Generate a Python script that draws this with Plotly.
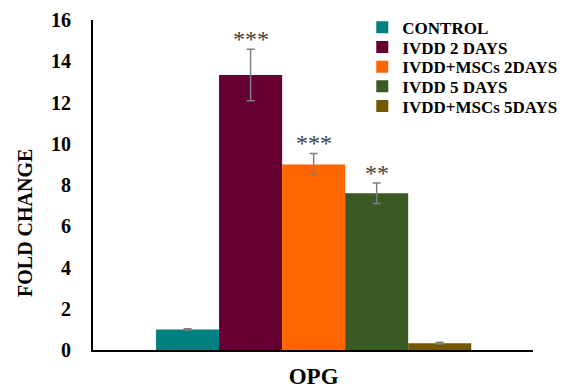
import plotly.graph_objects as go

groups = ["CONTROL", "IVDD 2 DAYS", "IVDD+MSCs 2DAYS", "IVDD 5 DAYS", "IVDD+MSCs 5DAYS"]
values = [1.0, 13.33, 9.0, 7.6, 0.33]
errors = [0.03, 1.25, 0.53, 0.5, 0.04]
signif = ["", "***", "***", "**", ""]
colors = ["#008080", "#660033", "#FF6600", "#3A5A24", "#735800"]
positions = [0, 1, 2, 3, 4]
category = "OPG"
y_title = "FOLD CHANGE"

FONT = "Liberation Serif, Times New Roman, serif"

H, MT, MB = 392, 20, 42
plot_h = H - MT - MB

fig = go.Figure()
legend_layout = {}
for i, (g, v, e, c, p) in enumerate(zip(groups, values, errors, colors, positions)):
    lname = "legend" if i == 0 else f"legend{i + 1}"
    fig.add_trace(go.Bar(
        x=[p], y=[v], name="<b>" + g + "</b>", width=1, legend=lname,
        marker=dict(color=c, line=dict(width=0)),
        error_y=dict(type="data", array=[e], visible=True, color="#7F7F7F", thickness=1.5, width=4),
    ))
    center_px = 27.7 + 19.7 * i
    legend_layout[lname] = dict(
        x=0.612, y=(H - MB - center_px) / plot_h, xanchor="left", yanchor="middle", itemwidth=30,
        font=dict(family=FONT, size=17, color="black"), bgcolor="rgba(0,0,0,0)",
        itemclick=False, borderwidth=0,
    )

for s, v, e, p in zip(signif, values, errors, positions):
    if s:
        fig.add_annotation(x=p, y=v + e, text=s, showarrow=False, yanchor="bottom", yshift=-5,
                           font=dict(family=FONT, size=24, color="#404040"))

fig.add_annotation(xref="paper", yref="paper", x=-0.1545, y=0.385, text="<b>" + y_title + "</b>",
                   textangle=-90, showarrow=False, xanchor="center", yanchor="middle",
                   font=dict(family=FONT, size=20, color="black"))

fig.update_layout(
    width=569, height=H,
    margin=dict(l=93, r=36, t=MT, b=MB, autoexpand=False),
    plot_bgcolor="white", paper_bgcolor="white",
    showlegend=True,
    font=dict(family=FONT, color="black"),
    **legend_layout,
)
fig.update_xaxes(range=[-1.5, 5.48], tickmode="array", tickvals=[2], ticktext=["<b>" + category + "</b>"],
                 showline=True, linecolor="black", linewidth=2, ticks="", showgrid=False, zeroline=False,
                 ticklabelstandoff=4, automargin=False,
                 tickfont=dict(family=FONT, size=23, color="black"))
fig.update_yaxes(range=[0, 16], dtick=2, showline=True, linecolor="black", linewidth=2, ticks="",
                 showgrid=False, zeroline=False, tickfont=dict(family=FONT, size=20, color="black"),
                 tickprefix="<b>", ticksuffix="</b>", ticklabelstandoff=16, automargin=False)

fig.write_html("out.html")
